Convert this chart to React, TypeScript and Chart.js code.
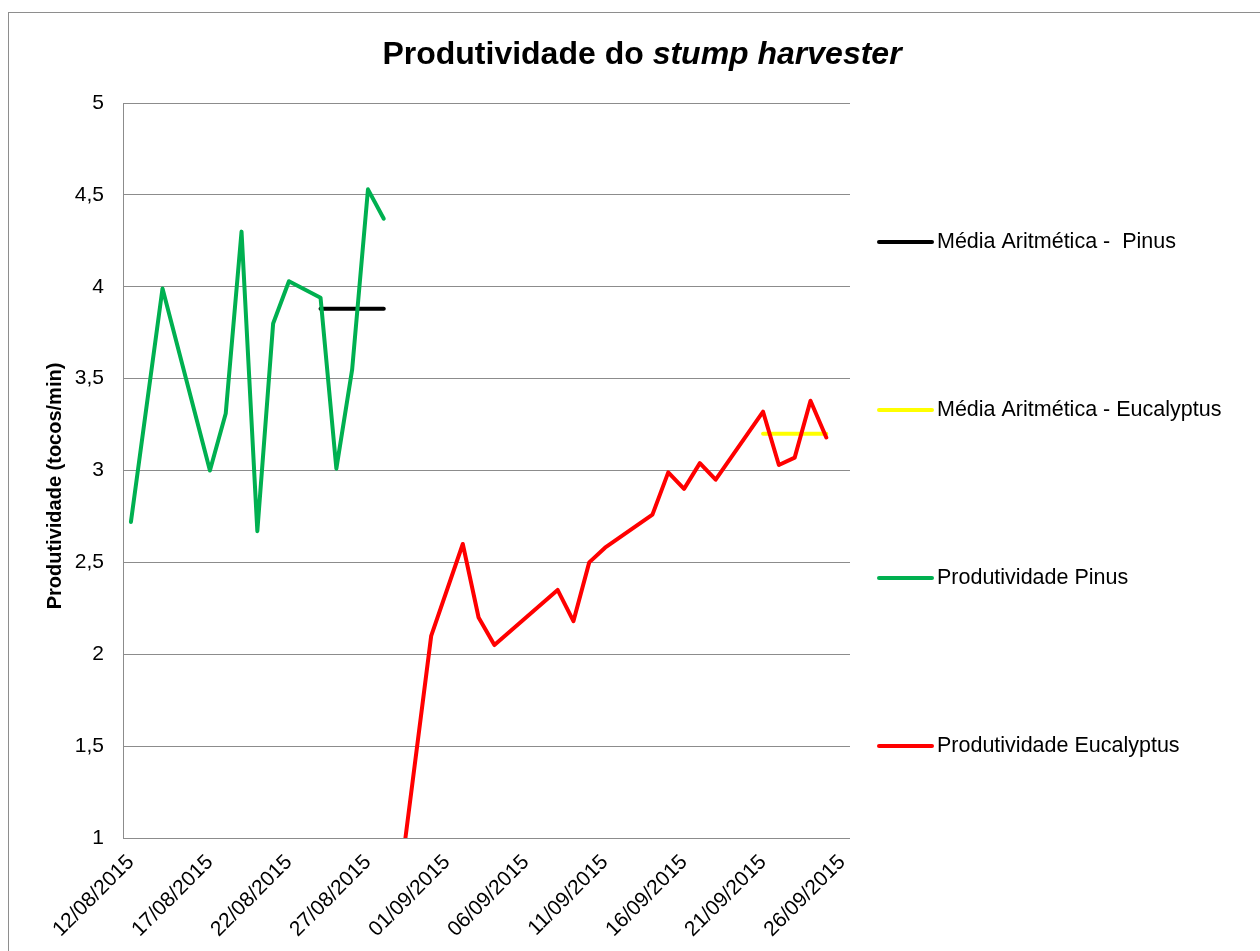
import React, { useEffect, useRef } from 'react';
import { Chart, registerables } from 'chart.js';

Chart.register(...registerables);

const FONT = '"Liberation Sans", Arial, sans-serif';

const chartTitle = 'Produtividade do ';
const chartTitleItalic = 'stump harvester';
const yAxisTitle = 'Produtividade (tocos/min)';

const seriesNames = [
  'Média Aritmética -  Pinus',
  'Média Aritmética - Eucalyptus',
  'Produtividade Pinus',
  'Produtividade Eucalyptus',
];
const seriesColors = ['#000000', '#FFFF00', '#00B050', '#FF0000'];

const pinusMeanDates = ['24/08/2015', '28/08/2015'];
const pinusMeanValues = [3.88, 3.88];

const eucMeanDates = ['21/09/2015', '25/09/2015'];
const eucMeanValues = [3.2, 3.2];

const pinusDates = [
  '12/08/2015', '14/08/2015', '17/08/2015', '18/08/2015', '19/08/2015',
  '20/08/2015', '21/08/2015', '22/08/2015', '24/08/2015', '25/08/2015',
  '26/08/2015', '27/08/2015', '28/08/2015',
];
const pinusValues = [2.72, 3.99, 3.0, 3.31, 4.3, 2.67, 3.8, 4.03, 3.94, 3.01, 3.55, 4.53, 4.37];

const eucDates = [
  '29/08/2015', '31/08/2015', '02/09/2015', '03/09/2015', '04/09/2015',
  '08/09/2015', '09/09/2015', '10/09/2015', '11/09/2015', '14/09/2015',
  '15/09/2015', '16/09/2015', '17/09/2015', '18/09/2015', '21/09/2015',
  '22/09/2015', '23/09/2015', '24/09/2015', '25/09/2015',
];
const eucValues = [
  0.75, 2.1, 2.6, 2.2, 2.05, 2.35, 2.18, 2.5, 2.58, 2.76,
  2.99, 2.9, 3.04, 2.95, 3.32, 3.03, 3.07, 3.38, 3.18,
];

const xTickLabels = [
  '12/08/2015', '17/08/2015', '22/08/2015', '27/08/2015', '01/09/2015',
  '06/09/2015', '11/09/2015', '16/09/2015', '21/09/2015', '26/09/2015',
];
const yTickValues = [1, 1.5, 2, 2.5, 3, 3.5, 4, 4.5, 5];
const yTickLabels = ['1', '1,5', '2', '2,5', '3', '3,5', '4', '4,5', '5'];

const START = Date.UTC(2015, 7, 12);
function dayPos(s: string): number {
  const [d, m, y] = s.split('/').map(Number);
  return (Date.UTC(y, m - 1, d) - START) / 86400000 + 0.5;
}
function pts(dates: string[], values: number[]) {
  return dates.map((d, i) => ({ x: dayPos(d), y: values[i] }));
}

const decorPlugin = {
  id: 'decor',
  beforeDraw(chart: any) {
    const ctx = chart.ctx;
    ctx.save();
    ctx.fillStyle = '#ffffff';
    ctx.fillRect(0, 0, chart.width, chart.height);
    ctx.strokeStyle = '#8e8e8e';
    ctx.lineWidth = 1;
    ctx.strokeRect(8.5, 12.5, chart.width + 20, chart.height + 20);
    ctx.restore();
  },
  afterDraw(chart: any) {
    const ctx = chart.ctx;
    ctx.save();
    // Title
    ctx.fillStyle = '#000';
    ctx.textBaseline = 'alphabetic';
    ctx.textAlign = 'left';
    const f1 = `bold 32px ${FONT}`;
    const f2 = `italic bold 32px ${FONT}`;
    ctx.font = f1;
    const w1 = ctx.measureText(chartTitle).width;
    ctx.font = f2;
    const w2 = ctx.measureText(chartTitleItalic).width;
    const cx = 642;
    const x0 = cx - (w1 + w2) / 2;
    ctx.font = f1;
    ctx.fillText(chartTitle, x0, 64);
    ctx.font = f2;
    ctx.fillText(chartTitleItalic, x0 + w1, 64);

    // Y axis title
    ctx.save();
    ctx.translate(55, 486);
    ctx.rotate(-Math.PI / 2);
    ctx.font = `bold 20px ${FONT}`;
    ctx.textAlign = 'center';
    ctx.textBaseline = 'middle';
    ctx.fillText(yAxisTitle, 0, 0);
    ctx.restore();

    // Legend
    ctx.font = `21.5px ${FONT}`;
    ctx.textAlign = 'left';
    ctx.textBaseline = 'middle';
    chart.data.datasets.forEach((ds: any, i: number) => {
      const y = 242 + i * 168;
      ctx.strokeStyle = ds.borderColor;
      ctx.lineWidth = 4;
      ctx.lineCap = 'round';
      ctx.beginPath();
      ctx.moveTo(879, y);
      ctx.lineTo(932, y);
      ctx.stroke();
      ctx.fillStyle = '#000';
      ctx.fillText(ds.label, 937, y);
    });
    ctx.restore();
  },
};

export default function App() {
  const ref = useRef<HTMLCanvasElement | null>(null);
  useEffect(() => {
    if (!ref.current) return;
    const seriesData = [
      pts(pinusMeanDates, pinusMeanValues),
      pts(eucMeanDates, eucMeanValues),
      pts(pinusDates, pinusValues),
      pts(eucDates, eucValues),
    ];
    const chart = new Chart(ref.current, {
      type: 'line',
      data: {
        datasets: seriesNames.map((name, i) => ({
          label: name,
          data: seriesData[i],
          borderColor: seriesColors[i],
          backgroundColor: seriesColors[i],
          borderWidth: 4,
          pointRadius: 0,
          tension: 0,
          borderJoinStyle: 'round',
          borderCapStyle: 'round',
          order: i < 2 ? 2 : 1,
          clip: 0,
        })),
      },
      options: {
        animation: false,
        responsive: true,
        maintainAspectRatio: false,
        layout: { padding: { top: 103, right: 410, bottom: 0, left: 0 } },
        plugins: {
          legend: { display: false },
          title: { display: false },
          tooltip: { enabled: false },
        },
        scales: {
          x: {
            type: 'linear',
            min: 0,
            max: 46,
            afterBuildTicks: (scale: any) => {
              scale.ticks = xTickLabels.map((l) => ({ value: dayPos(l) }));
            },
            afterFit: (scale: any) => {
              scale.height = 951 - 838;
            },
            grid: { display: false },
            border: { display: false },
            ticks: {
              autoSkip: false,
              minRotation: 45,
              maxRotation: 45,
              padding: 4,
              color: '#000',
              font: { family: FONT, size: 21 },
              callback: (_v: any, i: number) => xTickLabels[i],
            },
          },
          y: {
            type: 'linear',
            min: 1,
            max: 5,
            afterBuildTicks: (scale: any) => {
              scale.ticks = yTickValues.map((v) => ({ value: v }));
            },
            afterFit: (scale: any) => {
              scale.width = 123;
            },
            grid: { color: '#8c8c8c', lineWidth: 1, drawTicks: false },
            border: { display: true, color: '#8c8c8c', width: 1 },
            ticks: {
              padding: 19,
              color: '#000',
              font: { family: FONT, size: 21 },
              callback: (_v: any, i: number) => yTickLabels[i],
            },
          },
        },
      } as any,
      plugins: [decorPlugin],
    });
    return () => chart.destroy();
  }, []);
  return (
    <div style={{ position: 'fixed', left: 0, top: 0, width: 1260, height: 951, background: '#fff' }}>
      <canvas ref={ref} />
    </div>
  );
}
